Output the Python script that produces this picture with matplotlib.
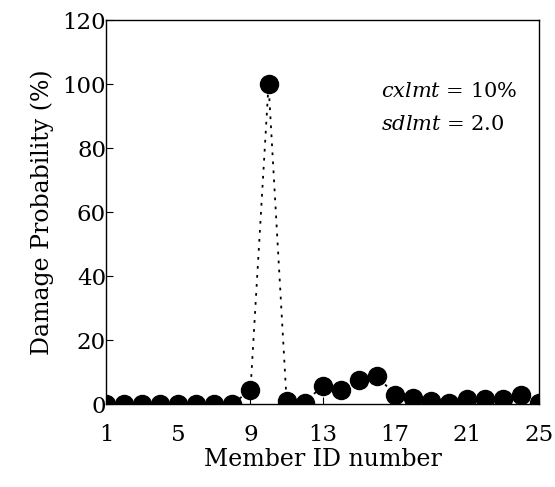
import numpy as np
import matplotlib.pyplot as plt

# Damage probability for each member
member_id = np.arange(1, 26)
damage_pct = [0, 0, 0, 0, 0, 0, 0, 0, 4.5, 100, 1, 0.5, 5.8, 4.5, 7.5, 8.8,
              3, 2, 1, 0.5, 1.5, 1.5, 1.5, 3, 0.5]
x_ticks = [1, 5, 9, 13, 17, 21, 25]
y_ticks = [0, 20, 40, 60, 80, 100, 120]

plt.rcParams['font.family'] = ['DejaVu Serif']
plt.rcParams['mathtext.fontset'] = 'custom'
plt.rcParams['mathtext.it'] = 'DejaVu Serif:italic'
plt.rcParams['mathtext.rm'] = 'DejaVu Serif'

fig = plt.figure(figsize=(5.55, 4.87), dpi=100)
ax = fig.add_axes([0.191, 0.170, 0.781, 0.788])

ax.plot(member_id, damage_pct, color='black', linestyle=(0, (1.5, 3.5)), linewidth=1.3,
        marker='o', markersize=13, markerfacecolor='black', markeredgecolor='black')

ax.set_xlim(1, 25)
ax.set_ylim(0, 120)
ax.set_xticks(x_ticks)
ax.set_yticks(y_ticks)
ax.tick_params(direction='in', length=5, labelsize=16.5)
ax.tick_params(axis='x', pad=14)
ax.tick_params(axis='y', pad=0)
for s in ax.spines.values():
    s.set_linewidth(1.0)

ax.set_xlabel('Member ID number', fontsize=17, labelpad=2)
ax.set_ylabel('Damage Probability (%)', fontsize=17, labelpad=6)

ax.text(0.635, 0.80, r'$cxlmt$ = 10%', transform=ax.transAxes, fontsize=15)
ax.text(0.635, 0.715, r'$sdlmt$ = 2.0', transform=ax.transAxes, fontsize=15)

fig.savefig('out.png', dpi=100)
